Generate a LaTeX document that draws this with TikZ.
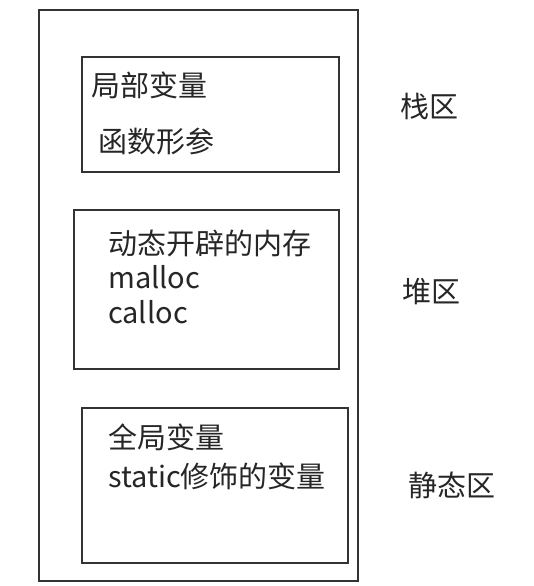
\documentclass[tikz,border=0pt]{standalone}
\usepackage{fontspec}
\setmainfont{Noto Sans CJK SC}
\tikzset{
  region/.style={draw=black!80, line width=1.6pt},
  txt/.style={anchor=base west, inner sep=0pt, text=black!85, font=\fontsize{29}{34}\selectfont},
}
\begin{document}
\begin{tikzpicture}[x=1pt,y=-1pt]
\useasboundingbox (0,0) rectangle (534,586);
% outer memory
\draw[region] (39,10) rectangle (358,581);
% inner boxes
\node[region, inner sep=0pt, minimum width=257pt, minimum height=115pt, anchor=north west] (stack) at (81,56) {};
\node[region, inner sep=0pt, minimum width=265pt, minimum height=159pt, anchor=north west] (heap) at (73,209) {};
\node[region, inner sep=0pt, minimum width=266pt, minimum height=155pt, anchor=north west] (static) at (81,407) {};
% texts
\node[txt] (s1) at (91,96) {局部变量};
\node[txt] (s2) at (98,152) {函数形参};
\node[txt] (h1) at (108,254) {动态开辟的内存};
\node[txt] (h2) at (108,288) {malloc};
\node[txt] (h3) at (108,323) {calloc};
\node[txt] (g1) at (108,448) {全局变量};
\node[txt] (g2) at (108,487) {static修饰的变量};
% labels
\node[txt] (l1) at (400,117) {栈区};
\node[txt] (l2) at (402,302) {堆区};
\node[txt] (l3) at (408,496) {静态区};
\end{tikzpicture}
\end{document}
